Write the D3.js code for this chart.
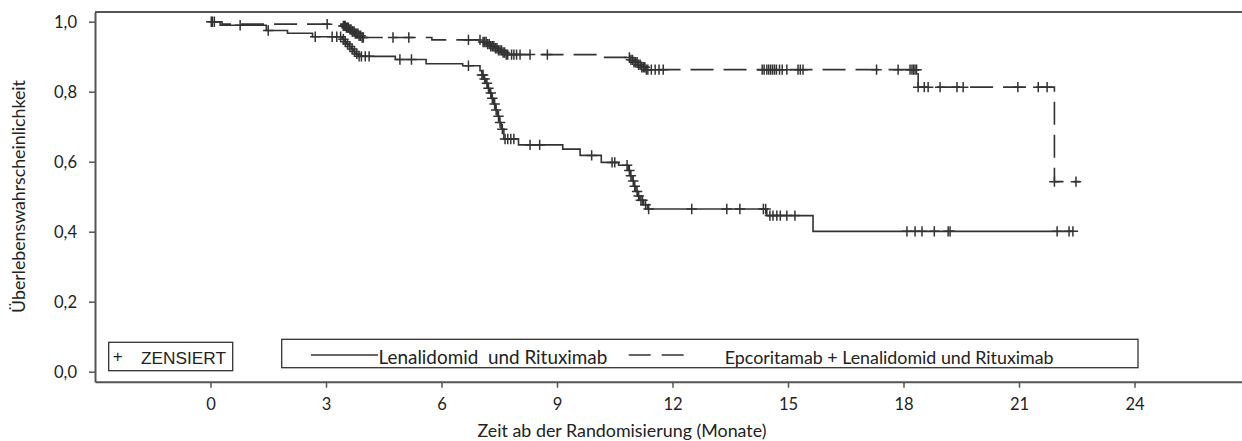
<!DOCTYPE html>
<html><head><meta charset="utf-8">
<script src="https://cdn.jsdelivr.net/npm/d3@7"></script>
<style>
body{margin:0;background:#fff;}
svg{display:block;}
</style></head><body>
<svg id="chart" width="1242" height="441"></svg>
<script>
// ---------- data ----------
const xTicks = [0, 3, 6, 9, 12, 15, 18, 21, 24];
const yTicks = [0, 0.2, 0.4, 0.6, 0.8, 1.0];
const seriesNames = ["Lenalidomid  und Rituximab", "Epcoritamab + Lenalidomid und Rituximab"];
const censorLabel = "ZENSIERT";
const xTitle = "Zeit ab der Randomisierung (Monate)";
const yTitle = "Überlebenswahrscheinlichkeit";

// Lenalidomid und Rituximab (solid): event times and survival after each step
const lenTime = [0, 0.25, 1.45, 2.0, 2.65, 3.42, 3.48, 3.54, 3.6, 3.66, 3.72, 3.78, 3.84, 4.8, 5.6, 6.55,
  7.0, 7.05, 7.1, 7.15, 7.2, 7.25, 7.3, 7.35, 7.4, 7.45, 7.5, 7.55, 7.62, 8.0, 9.15, 9.6, 10.15, 10.6,
  10.85, 10.9, 10.95, 11.0, 11.05, 11.1, 11.15, 11.25, 11.35, 14.45, 15.65];
const lenSurv = [1.0, 0.99, 0.975, 0.967, 0.957, 0.95, 0.943, 0.936, 0.929, 0.922, 0.915, 0.908, 0.901, 0.892, 0.88, 0.874,
  0.86, 0.848, 0.836, 0.824, 0.81, 0.796, 0.781, 0.765, 0.748, 0.73, 0.712, 0.693, 0.665, 0.648, 0.636, 0.618, 0.598, 0.59,
  0.575, 0.56, 0.545, 0.53, 0.515, 0.502, 0.49, 0.477, 0.465, 0.446, 0.401];
const lenEnd = 22.4;
const lenCensor = [0.02, 0.77, 1.5, 2.72, 3.16, 3.28, 3.38, 3.45, 3.5, 3.56, 3.62, 3.68, 3.74, 3.8, 3.86, 3.92, 4.02, 4.12,
  4.92, 5.22, 6.7, 7.05, 7.08, 7.12, 7.18, 7.22, 7.28, 7.32, 7.38, 7.42, 7.48, 7.52, 7.58, 7.65, 7.72, 7.8, 7.88, 8.3, 8.55,
  9.9, 10.43, 10.5, 10.82, 10.88, 10.92, 10.98, 11.02, 11.08, 11.12, 11.18, 11.22, 11.3, 11.38, 12.5, 13.41, 13.75, 14.36,
  14.42, 14.53, 14.61, 14.71, 14.8, 14.97, 15.18, 18.09, 18.3, 18.48, 18.8, 19.16, 19.21, 21.99, 22.3, 22.4];

// Epcoritamab + Lenalidomid und Rituximab (dashed)
const epTime = [0, 0.3, 3.45, 3.52, 3.6, 3.68, 3.76, 3.84, 3.92, 5.75, 7.08, 7.18, 7.28, 7.38, 7.48, 7.58, 7.68,
  10.1, 10.9, 11.0, 11.1, 11.2, 11.3, 18.38, 21.92];
const epSurv = [1.0, 0.993, 0.988, 0.983, 0.978, 0.972, 0.966, 0.96, 0.955, 0.948, 0.942, 0.936, 0.93, 0.924, 0.918, 0.912, 0.906,
  0.898, 0.891, 0.884, 0.877, 0.87, 0.863, 0.813, 0.543];
const epEnd = 22.58;
const epCensor = [0.05, 0.1, 3.03, 3.45, 3.48, 3.5, 3.53, 3.56, 3.58, 3.62, 3.65, 3.68, 3.7, 3.73, 3.76, 3.8, 3.83, 3.86, 3.9,
  3.94, 3.97, 4.74, 5.15, 6.7, 7.0, 7.08, 7.12, 7.16, 7.2, 7.24, 7.28, 7.32, 7.36, 7.4, 7.44, 7.48, 7.52, 7.56, 7.6, 7.64,
  7.68, 7.72, 7.82, 7.88, 7.95, 8.04, 8.3, 8.75, 10.88, 10.92, 10.96, 11.0, 11.04, 11.08, 11.12, 11.16, 11.2, 11.24, 11.28,
  11.32, 11.36, 11.45, 11.55, 11.65, 11.76, 14.33, 14.38, 14.45, 14.5, 14.55, 14.6, 14.65, 14.7, 14.78, 14.85, 14.97,
  15.26, 15.32, 15.39, 17.3, 17.86, 18.17, 18.22, 18.26, 18.3, 18.34, 18.38, 18.54, 18.64, 18.95, 19.39, 19.55, 20.97,
  21.5, 21.73, 21.92, 22.48];

// ---------- setup ----------
const svg = d3.select("#chart");
const ink = "#333";
const axisCol = "#555";
const font = "Lato, 'Open Sans', sans-serif";

const x = d3.scaleLinear().domain([-3, 27]).range([95, 1250]);
const y = d3.scaleLinear().domain([-0.0286, 1.0277]).range([381.7, 12]);

function fit(sel, target, base) {
  sel.style("font-size", base + "px");
  const w = sel.node().getComputedTextLength();
  sel.style("font-size", (base * target / w) + "px");
}

// probe for tick font size
const probe = svg.append("text").style("font-family", font).text("0,8");
fit(probe, 23, 16);
const tickFs = probe.style("font-size");
probe.remove();

// frame top
svg.append("line").attr("x1", x(-3)).attr("x2", x(27)).attr("y1", y.range()[1]).attr("y2", y.range()[1])
  .attr("stroke", axisCol).attr("stroke-width", 2);
svg.append("line").attr("x1", x(27)).attr("x2", x(27)).attr("y1", y.range()[1]).attr("y2", y.range()[0])
  .attr("stroke", axisCol).attr("stroke-width", 2);

// axes
const yAxis = svg.append("g").attr("transform", `translate(${x(-3)},0)`)
  .call(d3.axisLeft(y).tickValues(yTicks).tickFormat(d => d.toFixed(1).replace(".", ","))
    .tickSize(6).tickSizeOuter(0).tickPadding(12));
const xAxis = svg.append("g").attr("transform", `translate(0,${y.range()[0]})`)
  .call(d3.axisBottom(x).tickValues(xTicks).tickFormat(d => d)
    .tickSize(6).tickSizeOuter(0).tickPadding(11));
[yAxis, xAxis].forEach(g => {
  g.select(".domain").attr("stroke", axisCol).attr("stroke-width", 2);
  g.selectAll(".tick line").attr("stroke", axisCol).attr("stroke-width", 1.5);
  g.selectAll(".tick text").style("font-family", font).style("font-size", tickFs).attr("fill", "#222");
});

// axis titles
const xt = svg.append("text").attr("x", 622).attr("y", 437).attr("text-anchor", "middle")
  .style("font-family", font).attr("fill", "#222").text(xTitle);
fit(xt, 289, 16);
const yt = svg.append("text").attr("transform", "translate(25,196.5) rotate(-90)").attr("text-anchor", "middle")
  .style("font-family", font).attr("fill", "#222").text(yTitle);
fit(yt, 233, 16);

// curves
function stepPoints(t, s, end) {
  const pts = t.map((d, i) => [d, s[i]]);
  pts.push([end, s[s.length - 1]]);
  return pts;
}
function survAt(t, s, time) {
  let v = s[0];
  for (let i = 0; i < t.length; i++) { if (t[i] <= time) v = s[i]; }
  return v;
}
const line = d3.line().x(d => x(d[0])).y(d => y(d[1])).curve(d3.curveStepAfter);

const series = [
  { t: lenTime, s: lenSurv, end: lenEnd, c: lenCensor, dash: null },
  { t: epTime, s: epSurv, end: epEnd, c: epCensor, dash: "23,10" }
];
const plot = svg.append("g");
series.forEach(sr => {
  plot.append("path").attr("d", line(stepPoints(sr.t, sr.s, sr.end)))
    .attr("fill", "none").attr("stroke", ink).attr("stroke-width", 1.6)
    .attr("stroke-dasharray", sr.dash);
  const m = 5.2;
  plot.append("g").selectAll("path").data(sr.c).join("path")
    .attr("d", d => {
      const cx = x(d), cy = y(survAt(sr.t, sr.s, d));
      return `M${cx - m},${cy}H${cx + m}M${cx},${cy - m}V${cy + m}`;
    })
    .attr("stroke", ink).attr("stroke-width", 1.5).attr("fill", "none");
});

// legend: censor box
svg.append("rect").attr("x", 108.7).attr("y", 342.3).attr("width", 124).attr("height", 28.4)
  .attr("fill", "#fff").attr("stroke", ink).attr("stroke-width", 1.3);
const lf = "'Liberation Sans', Arial, sans-serif";
svg.append("text").attr("x", 117.7).attr("y", 362).attr("text-anchor", "middle")
  .style("font-family", lf).style("font-size", "17px").attr("fill", "#222").text("+");
const zt = svg.append("text").attr("x", 141).attr("y", 364).style("font-family", lf).attr("fill", "#222").text(censorLabel);
fit(zt, 85, 17);

// legend: series box
svg.append("rect").attr("x", 281.7).attr("y", 339.3).attr("width", 1138 - 281.7).attr("height", 28.4)
  .attr("fill", "#fff").attr("stroke", ink).attr("stroke-width", 1.3);
svg.append("line").attr("x1", 311).attr("x2", 378).attr("y1", 355).attr("y2", 355)
  .attr("stroke", ink).attr("stroke-width", 1.6);
const l1 = svg.append("text").attr("x", 378.5).attr("y", 363.5).style("font-family", font)
  .style("white-space", "pre").attr("fill", "#222").text(seriesNames[0]);
fit(l1, 229, 17);
svg.append("line").attr("x1", 628.7).attr("x2", 684).attr("y1", 355).attr("y2", 355)
  .attr("stroke", ink).attr("stroke-width", 1.6).attr("stroke-dasharray", "22,11");
const l2 = svg.append("text").attr("x", 724.8).attr("y", 363.5).style("font-family", font)
  .attr("fill", "#222").text(seriesNames[1]);
fit(l2, 329, 17);
</script>
</body></html>
